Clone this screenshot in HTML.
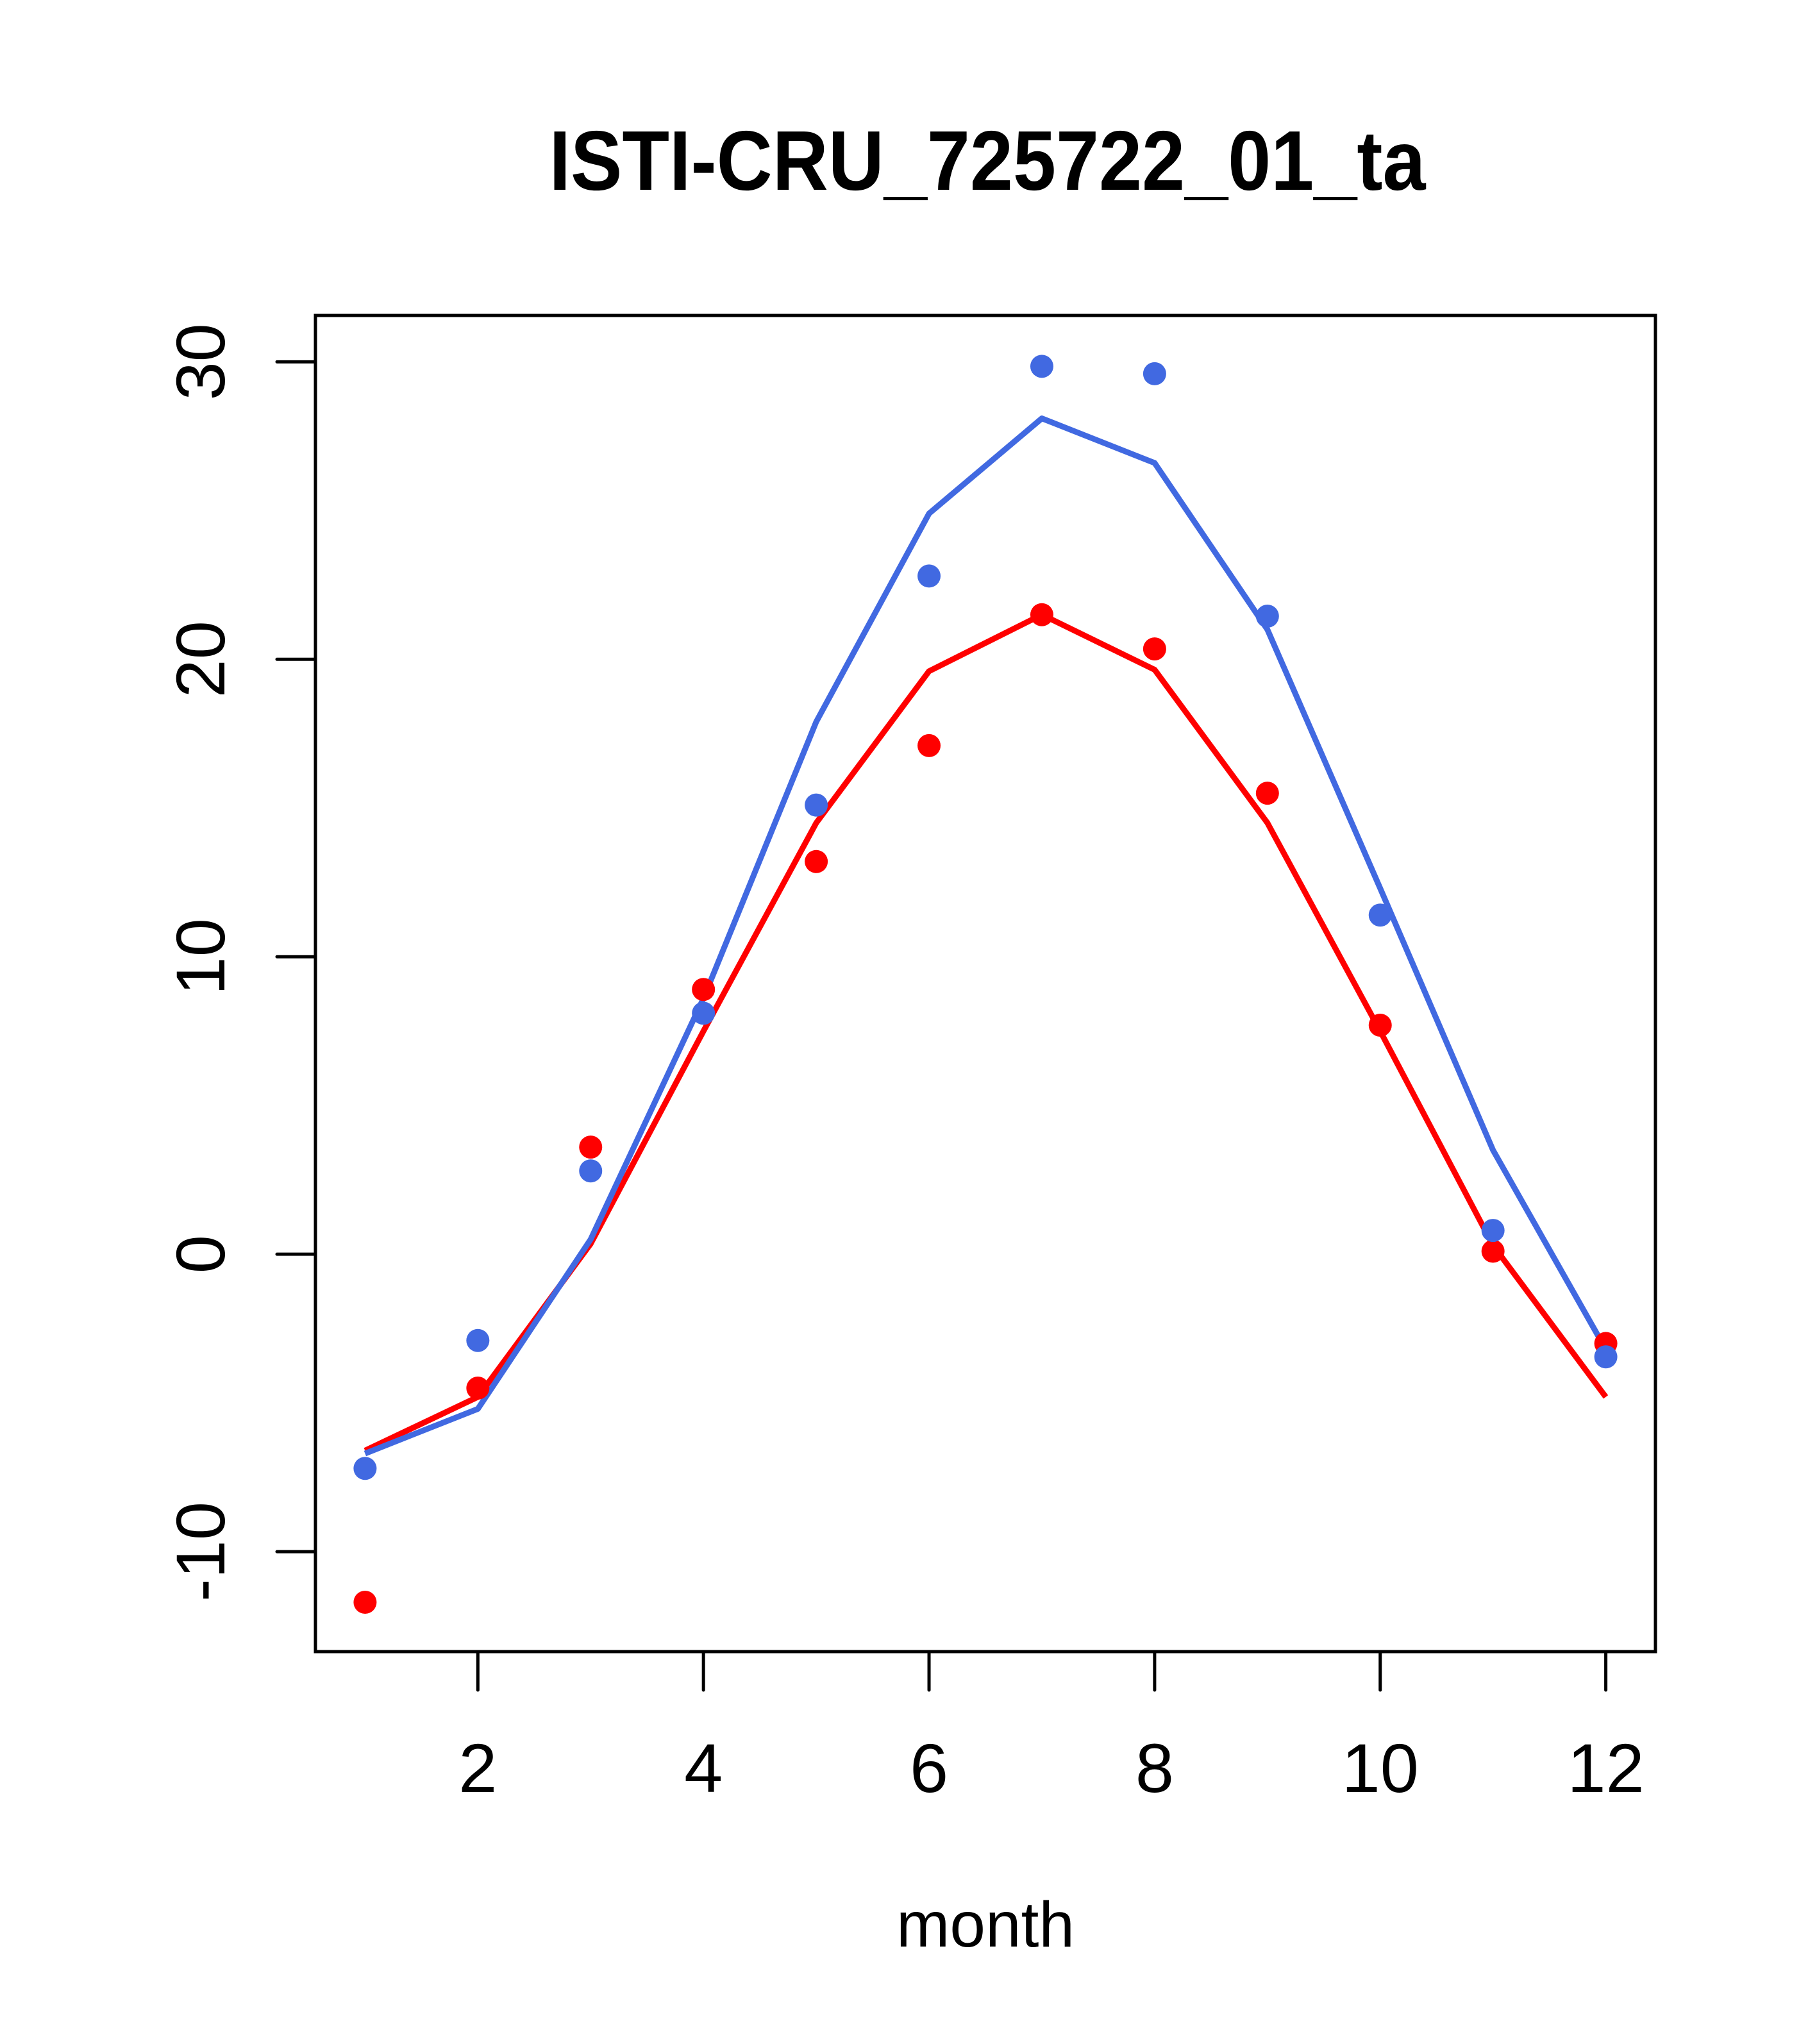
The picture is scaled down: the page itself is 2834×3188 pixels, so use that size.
<!DOCTYPE html>
<html><head><meta charset="utf-8"><style>
html,body{margin:0;padding:0;background:#fff}
svg{display:block}
text{font-family:"Liberation Sans",Arial,sans-serif;fill:#000}
</style></head><body>
<svg id="chart" width="2834" height="3188" viewBox="0 0 2834 3188" xmlns="http://www.w3.org/2000/svg">
<rect width="2834" height="3188" fill="#fff"/>
<text x="1540" y="296" text-anchor="middle" font-size="132" font-weight="bold" textLength="1367" lengthAdjust="spacingAndGlyphs">ISTI-CRU_725722_01_ta</text>
<rect x="492" y="492" width="2090" height="2084" fill="none" stroke="#000" stroke-width="5"/>
<g id="xaxis"></g>
<g id="yaxis"></g>
<g id="series"></g>
<text x="1537" y="3036" text-anchor="middle" font-size="100">month</text>
</svg>
<script>
const months = [1,2,3,4,5,6,7,8,9,10,11,12];
const bluePoints = [-7.2,-2.9,2.8,8.1,15.1,22.8,29.85,29.6,21.45,11.4,0.8,-3.45];
const redPoints = [-11.7,-4.5,3.6,8.9,13.2,17.1,21.5,20.35,15.5,7.7,0.1,-3.0];
const blueLine = [-6.7,-5.2,0.5,8.6,17.9,24.9,28.1,26.6,21.0,12.3,3.5,-3.2];
const redLine = [-6.6,-4.8,0.35,7.5,14.5,19.6,21.5,19.65,14.5,7.5,0.3,-4.8];
const xTicks = [2,4,6,8,10,12];
const yTicks = [-10,0,10,20,30];

const NS = "http://www.w3.org/2000/svg";
const L=492,R=2582,T=492,B=2576;
const xMin=0.56,xMax=12.44,yMin=-13.36,yMax=31.56;
function sx(v){return L+(v-xMin)/(xMax-xMin)*(R-L);}
function sy(v){return B-(v-yMin)/(yMax-yMin)*(B-T);}
function mk(tag,attrs,parent){const e=document.createElementNS(NS,tag);for(const k in attrs)e.setAttribute(k,attrs[k]);parent.appendChild(e);return e;}

const xa=document.getElementById('xaxis');
xTicks.forEach(t=>{
  const l=mk('line',{x1:sx(t),x2:sx(t),y1:B,y2:B+60,stroke:'#000','stroke-width':5,'stroke-linecap':'round'},xa);
  
  
  const tx=mk('text',{x:sx(t),y:2795,'text-anchor':'middle','font-size':108},xa);
  tx.textContent=t;
  
  
});
const ya=document.getElementById('yaxis');
yTicks.forEach(t=>{
  const l=mk('line',{x1:L-60,x2:L,y1:sy(t),y2:sy(t),stroke:'#000','stroke-width':5,'stroke-linecap':'round'},ya);
  
  
  const tx=mk('text',{x:0,y:0,'text-anchor':'middle','font-size':108,transform:`translate(350,${sy(t)}) rotate(-90)`},ya);
  tx.textContent=t;
  
  
});

const sg=document.getElementById('series');
function line(vals,color,name){
  const p=mk('polyline',{points:vals.map((v,i)=>sx(months[i])+','+sy(v)).join(' '),fill:'none',stroke:color,'stroke-width':9,'stroke-linejoin':'round'},sg);
  
  
}
function pts(vals,color,name){
  vals.forEach((v,i)=>{
    const c=mk('circle',{cx:sx(months[i]),cy:sy(v),r:18,fill:color},sg);
    
    
  });
}
line(redLine,'#ff0000','red-line');
line(blueLine,'#4169e1','blue-line');
pts(redPoints,'#ff0000','red-point');
pts(bluePoints,'#4169e1','blue-point');
</script>
</body></html>
